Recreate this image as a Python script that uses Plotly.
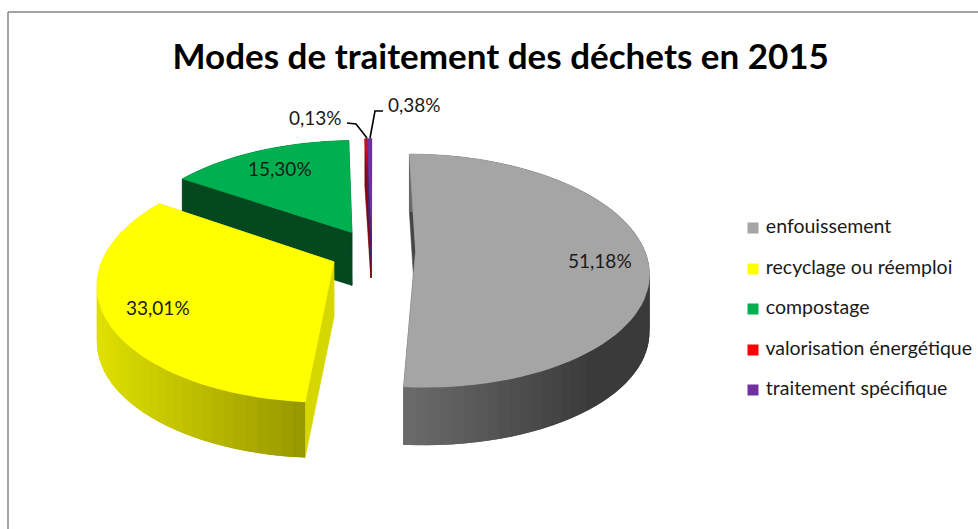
import math
import plotly.graph_objects as go

# --- data -------------------------------------------------------------
title_text = "Modes de traitement des déchets en 2015"
categories = ["enfouissement", "recyclage ou réemploi", "compostage",
              "valorisation énergétique", "traitement spécifique"]
values = [51.18, 33.01, 15.30, 0.13, 0.38]
top_colors = ["#A5A5A5", "#FFFF00", "#00B050", "#FF0000", "#7030A0"]
face_colors = ["#454545", "#D6D600", "#03481F", "#8A0000", "#4A2070"]
wall_left = ["#6C6C6C", "#E0E000", "#03481F", "#8A0000", "#4A2070"]
wall_right = ["#3A3A3A", "#969600", "#03481F", "#8A0000", "#4A2070"]
depths = [58.0, 56.0, 53.0, 48.0, 48.0]
nudge_x = [1.5, 0, 0, 0, 0]
nudge_y = [0, 2.5, 0, 0, 0]

# --- projection of the exploded pie ------------------------------------
VX, VY = 372.0, 250.0   # vanishing centre, px
RX, RY = 229.0, 113.0   # disc radii
K = 0.17                # perspective strength
EXPLODE = 42.0          # px along the bisector


def project(px, py):
    s = 1 / (1 - K * py / RY)
    return VX + px * s, VY + py * s


def hexmix(a, b, t):
    ca = [int(a[i:i + 2], 16) for i in (1, 3, 5)]
    cb = [int(b[i:i + 2], 16) for i in (1, 3, 5)]
    return "#%02x%02x%02x" % tuple(round(x + (y - x) * t) for x, y in zip(ca, cb))


fig = go.Figure()


def poly(xs, ys, color, width=0.6):
    fig.add_trace(go.Scatter(
        x=xs, y=ys, mode="lines", fill="toself", fillcolor=color,
        line=dict(color=color, width=width), hoverinfo="skip", showlegend=False))


def slice_geometry(start, end, dx, dy):
    mid = math.radians((start + end) / 2)
    ox = EXPLODE * math.sin(mid)
    oy = -EXPLODE * math.cos(mid) * RY / RX
    n = max(2, int((end - start) / 2.5))
    rim = []
    for i in range(n + 1):
        t = math.radians(start + (end - start) * i / n)
        x, y = project(ox + RX * math.sin(t), oy - RY * math.cos(t))
        rim.append((x + dx, y + dy))
    ax, ay = project(ox, oy)
    return (ax + dx, ay + dy), rim


total = sum(values)
angle = 0.0
slices = []
for v in values:
    slices.append((angle, angle + 360 * v / total))
    angle += 360 * v / total

# painter's order: back slices first
for i in [2, 3, 4, 1, 0]:
    apex, rim = slice_geometry(*slices[i], nudge_x[i], nudge_y[i])
    d = depths[i]
    # cut faces
    for p in (rim[0], rim[-1]):
        poly([apex[0], p[0], p[0], apex[0], apex[0]],
             [apex[1], p[1], p[1] + d, apex[1] + d, apex[1]], face_colors[i])
    # outer wall as shaded strips, each overlapping the next one
    xs_rim = [p[0] for p in rim]
    xmin, xmax = min(xs_rim), max(xs_rim)
    for j in range(len(rim) - 1):
        a, b = rim[j], rim[min(j + 2, len(rim) - 1)]
        m = rim[j + 1]
        t = (((a[0] + m[0]) / 2) - xmin) / max(xmax - xmin, 1)
        c = hexmix(wall_left[i], wall_right[i], min(1, t * (1.3 if i == 0 else 1)))
        poly([a[0], m[0], b[0], b[0], m[0], a[0], a[0]],
             [a[1], m[1], b[1], b[1] + d, m[1] + d, a[1] + d, a[1]], c, width=0)
    # top surface
    poly([apex[0]] + [p[0] for p in rim] + [apex[0]],
         [apex[1]] + [p[1] for p in rim] + [apex[1]], top_colors[i])

# legend entries
legend_y = [228, 269, 309, 350, 390]
for name, color, y in zip(categories, top_colors, legend_y):
    fig.add_trace(go.Scatter(
        x=[753], y=[y], mode="markers+text", name=name, text=["\u00a0" + name],
        textposition="middle right",
        textfont=dict(family="Lato", size=19.5, color="#1a1a1a"),
        marker=dict(symbol="square", size=11, color=color), showlegend=False))

# data labels
label_pos = [(600, 260), (158, 307), (280, 168), (315, 117), (414, 104)]
for v, (x, y) in zip(values, label_pos):
    fig.add_annotation(x=x, y=y, text=f"{v:.2f}%".replace(".", ","), showarrow=False,
                       font=dict(family="Lato", size=19, color="#1a1a1a"))

# leader lines
for xs, ys in (((347, 356, 367), (123, 124, 138)), ((383, 375, 370), (111, 111, 138))):
    fig.add_trace(go.Scatter(x=list(xs), y=list(ys), mode="lines", showlegend=False,
                             hoverinfo="skip", line=dict(color="#000000", width=1.6)))

# chart frame: only the left and top edges fall inside the picture
for x0, y0, x1, y1 in ((8, 12, 8, 529), (8, 12, 978, 12)):
    fig.add_shape(type="line", xref="x", yref="y", x0=x0, y0=y0, x1=x1, y1=y1,
                  line=dict(color="#868686", width=1.5))

fig.update_layout(
    width=978, height=529, margin=dict(l=0, r=0, t=0, b=0),
    paper_bgcolor="white", plot_bgcolor="white", showlegend=False,
    title=dict(text=title_text, x=0.512, xanchor="center", y=0.893, yanchor="middle",
               font=dict(family="Lato", size=35, color="#000000", weight="bold")),
    xaxis=dict(range=[0, 978], visible=False, fixedrange=True),
    yaxis=dict(range=[529, 0], visible=False, fixedrange=True),
)
fig.write_html("out.html", config={"displayModeBar": False},
               post_script="document.body.style.margin='0';document.body.style.overflow='hidden';")
